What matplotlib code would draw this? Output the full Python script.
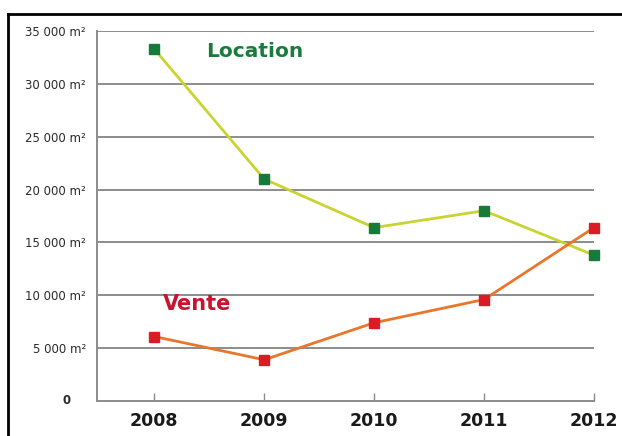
import matplotlib
matplotlib.use("Agg")
import matplotlib.pyplot as plt
from matplotlib.lines import Line2D
from matplotlib.transforms import blended_transform_factory

years = [2008, 2009, 2010, 2011, 2012]
location = [33300, 21000, 16400, 18000, 13800]
vente = [6100, 3900, 7400, 9600, 16400]
y_ticks = [0, 5000, 10000, 15000, 20000, 25000, 30000, 35000]
y_labels = ["", "5 000 m²", "10 000 m²", "15 000 m²", "20 000 m²",
            "25 000 m²", "30 000 m²", "35 000 m²"]

GRID = "#8c8c8c"

fig = plt.figure(figsize=(6.22, 4.36), dpi=100)
ax = fig.add_axes([0.156, 0.0803, 0.799, 0.8486])

for yv in y_ticks[1:]:
    ax.axhline(yv, color=GRID, linewidth=1.4, zorder=1)

ax.plot(years, location, color="#c9d431", linewidth=2.0, zorder=3, clip_on=False)
ax.plot(years, location, linestyle="none", marker="s", markersize=7.5,
        color="#167a3b", zorder=4, clip_on=False)
ax.plot(years, vente, color="#e8772c", linewidth=2.0, zorder=3, clip_on=False)
ax.plot(years, vente, linestyle="none", marker="s", markersize=7.5,
        color="#dc1c24", zorder=4, clip_on=False)

ax.text(2008.91, 33100, "Location", color="#1b7a3c", fontsize=14.5,
        fontweight="bold", ha="center", va="center")
ax.text(2008.39, 9150, "Vente", color="#c8142f", fontsize=15,
        fontweight="bold", ha="center", va="center")

ax.set_xlim(2007.48, 2012)
ax.set_ylim(0, 35000)
ax.set_xticks(years)
ax.set_xticklabels([str(y) for y in years], fontsize=12.5, fontweight="bold",
                   color="#1a1a1a")
ax.set_yticks(y_ticks)
ax.set_yticklabels(y_labels, fontsize=8.5, color="#2a2a2a")
ax.tick_params(axis="y", length=0, pad=8)
ax.tick_params(axis="x", direction="in", length=6, width=1, color=GRID, pad=8)

# the zero label sits further left than the others
zero_tr = blended_transform_factory(fig.transFigure, ax.transData)
fig.text(67 / 622, y_ticks[0], "0", transform=zero_tr, fontsize=8.5,
         fontweight="bold", color="#2a2a2a", ha="center", va="center")

for side in ["top", "right"]:
    ax.spines[side].set_visible(False)
for side in ["left", "bottom"]:
    ax.spines[side].set_color(GRID)
    ax.spines[side].set_linewidth(1.4)

# black frame around the chart (top and left edges)
fig.add_artist(Line2D([8 / 622, 1.0], [1 - 14 / 436, 1 - 14 / 436],
                      transform=fig.transFigure, color="black", linewidth=2))
fig.add_artist(Line2D([8 / 622, 8 / 622], [0.0, 1 - 14 / 436],
                      transform=fig.transFigure, color="black", linewidth=2))

fig.savefig("out.png", dpi=100)
